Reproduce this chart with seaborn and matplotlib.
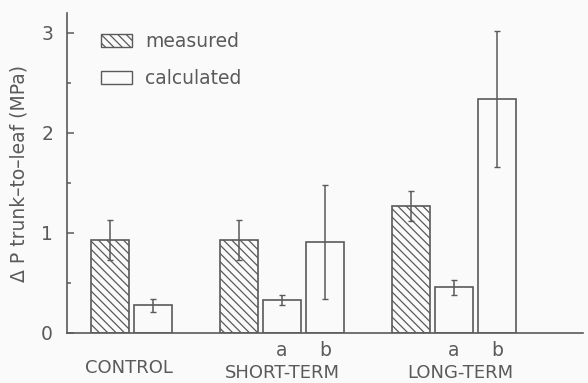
import numpy as np
import pandas as pd
import matplotlib
matplotlib.use("Agg")
import matplotlib.pyplot as plt
import seaborn as sns
from matplotlib.patches import Patch

# ---- data ----
slots = [0, 1, 3, 4, 5, 7, 8, 9]
kinds = ["measured", "calculated", "measured", "calculated", "calculated",
         "measured", "calculated", "calculated"]
values = [0.93, 0.28, 0.93, 0.33, 0.91, 1.27, 0.46, 2.34]
errors = [0.20, 0.065, 0.20, 0.05, 0.57, 0.15, 0.075, 0.68]
sub_labels = ["", "", "", "a", "b", "", "a", "b"]
groups = ["CONTROL", "SHORT-TERM", "LONG-TERM"]
group_pos = [0.45, 4.0, 8.15]
group_y = [-0.082, -0.097, -0.097]

df = pd.DataFrame({"slot": slots, "kind": kinds, "value": values, "err": errors})

sns.set_theme(style="ticks")
plt.rcParams["font.family"] = ["DejaVu Sans"]
plt.rcParams["hatch.color"] = "#555555"
plt.rcParams["hatch.linewidth"] = 0.9

fg = "#5a5a5a"
bg = "#fafafa"
fs = 13.5

fig = plt.figure(figsize=(5.88, 3.83), dpi=100, facecolor=bg)
ax = fig.add_axes([67/588, 50/383, 516/588, 320/383])
ax.set_facecolor(bg)

sns.barplot(data=df, x="slot", y="value", hue="kind", native_scale=True,
            dodge=False, width=0.87, palette={"measured": bg, "calculated": bg},
            edgecolor=fg, linewidth=1.2, errorbar=None, legend=False, ax=ax)

for p in ax.patches:
    x = p.get_x() + p.get_width() / 2
    i = int(np.argmin([abs(x - s) for s in slots]))
    if kinds[i] == "measured":
        p.set_hatch("\\\\\\\\")

ax.errorbar(df["slot"], df["value"], yerr=df["err"], fmt="none",
            ecolor=fg, elinewidth=1.1, capsize=2.0, capthick=1.0)

ax.set_xlim(-1.0, 11.0)
ax.set_ylim(0, 3.2)
ax.set_yticks([0, 1, 2, 3])
ax.set_yticks([0.5, 1.5, 2.5], minor=True)
ax.set_xticks([])
ax.tick_params(axis="y", direction="in", length=5, width=1.1, colors=fg,
               labelsize=fs, pad=10, labelcolor=fg)
ax.tick_params(axis="y", which="minor", direction="in", length=3, width=1.1, colors=fg)
sns.despine(ax=ax, top=True, right=True)
for side in ("left", "bottom"):
    ax.spines[side].set_color(fg)
    ax.spines[side].set_linewidth(1.2)
ax.set_xlabel("")
ax.set_ylabel("Δ P trunk–to–leaf (MPa)", fontsize=fs, color=fg, labelpad=9)

trans = ax.get_xaxis_transform()
for s, lab in zip(slots, sub_labels):
    if lab:
        ax.text(s, -0.025, lab, transform=trans, ha="center", va="top",
                fontsize=fs, color=fg)
for g, gx, gy in zip(groups, group_pos, group_y):
    ax.text(gx, gy, g, transform=trans, ha="center", va="top",
            fontsize=13, color=fg, clip_on=False)

handles = [Patch(facecolor=bg, edgecolor=fg, hatch="\\\\\\\\", linewidth=1.0, label="measured"),
           Patch(facecolor=bg, edgecolor=fg, linewidth=1.0, label="calculated")]
leg = ax.legend(handles=handles, loc="upper left", bbox_to_anchor=(0.066, 0.94),
                frameon=False, fontsize=fs, handlelength=1.65, handleheight=0.65,
                handletextpad=0.7, labelspacing=0.95, borderpad=0, borderaxespad=0)
for t in leg.get_texts():
    t.set_color(fg)

fig.savefig("out.png", dpi=100, facecolor=bg)
